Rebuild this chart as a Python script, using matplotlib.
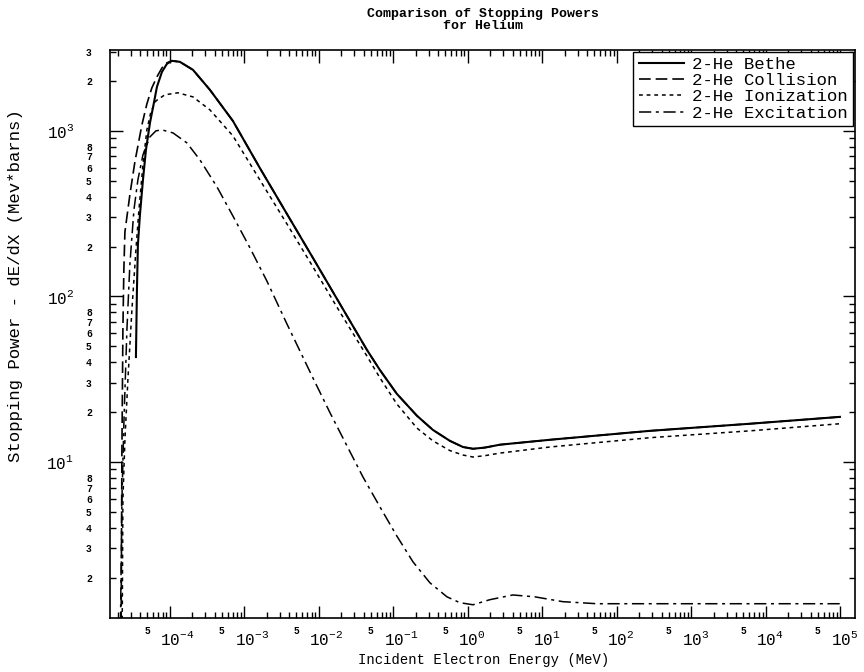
import numpy as np
import matplotlib
matplotlib.use("Agg")
import matplotlib.pyplot as plt
import matplotlib.transforms as mtransforms
from matplotlib.ticker import LogLocator, FuncFormatter

plt.rcParams["font.family"] = ["Liberation Mono", "DejaVu Sans Mono"]
plt.rcParams["mathtext.default"] = "regular"

# ---- data (energy in MeV, stopping power in MeV*barns) ----
bethe_E = [3.5e-5, 3.61e-5, 3.72e-5, 3.96e-5, 4.35e-5, 4.77e-5, 5.4e-5, 6.1e-5,
           6.7e-5, 7.82e-5, 9.12e-5, 1.06e-4, 1.36e-4, 2.04e-4, 3.44e-4, 7.01e-4,
           1.61e-3, 3.72e-3, 8.3e-3, 1.91e-2, 4.41e-2, 6.59e-2,
           0.111, 0.207, 0.339, 0.573, 0.857, 1.17, 1.69, 2.69,
           12.6, 277, 6100, 9.85e4]
bethe_V = [43, 109, 205, 310, 506, 767, 1117, 1476,
           1845, 2270, 2540, 2650, 2612, 2337, 1771, 1148,
           597, 315, 171, 90.2, 47.5, 35.9,
           25.8, 19.0, 15.6, 13.4, 12.3, 12.0, 12.2, 12.7,
           13.6, 15.4, 17.0, 18.7]

coll_E = [2.2e-5, 2.27e-5, 2.34e-5, 2.41e-5, 2.49e-5, 2.9e-5, 3.39e-5, 4.21e-5,
          4.91e-5, 5.73e-5, 6.7e-5, 7.82e-5, 9.12e-5, 1.06e-4, 1.36e-4, 2.04e-4,
          3.44e-4, 7.01e-4, 1.61e-3, 3.72e-3, 8.3e-3, 1.91e-2, 4.41e-2, 6.59e-2,
          0.111, 0.207, 0.339, 0.573, 0.857, 1.17,
          1.69, 2.69, 12.6, 277, 6100, 9.85e4]
coll_V = [0.5, 11.8, 63, 145, 245, 410, 650, 1087,
          1455, 1820, 2120, 2400, 2576, 2650, 2612, 2337,
          1771, 1148, 597, 315, 171, 90.2, 47.5, 35.9,
          25.8, 19.0, 15.6, 13.4, 12.3, 12.0,
          12.2, 12.7, 13.6, 15.4, 17.0, 18.7]

ion_E = [2.27e-5, 2.34e-5, 2.49e-5, 2.73e-5, 3.09e-5, 3.5e-5, 3.84e-5, 4.35e-5,
         4.91e-5, 5.56e-5, 6.49e-5, 8.57e-5, 1.28e-4, 2.04e-4, 3.44e-4, 7.01e-4,
         1.61e-3, 3.72e-3, 8.3e-3, 1.91e-2, 4.41e-2, 6.59e-2,
         0.111, 0.207, 0.339, 0.573, 0.857, 1.17, 1.69, 2.69,
         12.6, 277, 6100, 9.85e4]
ion_V = [0.5, 5.9, 13.6, 31.3, 82.8, 191, 333, 624,
         1014, 1303, 1517, 1652, 1698, 1604, 1340, 933,
         506, 274, 151, 80.5, 43.6, 32.2,
         22.4, 16.0, 13.4, 11.7, 11.0, 10.7, 10.9, 11.3,
         12.3, 14.0, 15.4, 17.0]

exc_E = [2.13e-5, 2.27e-5, 2.42e-5, 2.65e-5, 2.9e-5, 3.29e-5, 3.72e-5, 4.35e-5,
         5.4e-5, 6.49e-5, 7.82e-5, 1.1e-4, 1.69e-4, 2.53e-4, 4.28e-4, 7.01e-4,
         1.19e-3, 2.0e-3, 3.72e-3, 8.3e-3, 1.41e-2, 2.38e-2, 3.9e-2, 6.59e-2,
         0.111, 0.183, 0.309, 0.523, 0.781, 1.17, 1.97, 4.0,
         7.9, 18.8, 54, 9.85e4]
exc_V = [0.5, 5.9, 18, 63, 155, 333, 506, 716,
         920, 1000, 1014, 972, 846, 668, 459, 306,
         196, 124, 68.2, 32.2, 19.8, 12.5, 8.11, 5.35,
         3.57, 2.49, 1.86, 1.53, 1.41, 1.37, 1.47, 1.57,
         1.53, 1.43, 1.39, 1.39]

labels = ["2-He Bethe", "2-He Collision", "2-He Ionization", "2-He Excitation"]

# ---- figure ----
fig = plt.figure(figsize=(8.64, 6.72), dpi=100)
ax = fig.add_axes([0.1273, 0.0804, 0.8623, 0.8452])

ax.plot(bethe_E, bethe_V, color="black", lw=1.5, ls="-", label=labels[0])
ax.plot(coll_E, coll_V, color="black", lw=1.2, dashes=(7, 3), label=labels[1])
ax.plot(ion_E, ion_V, color="black", lw=1.1, dashes=(2.5, 2.5), label=labels[2])
ax.plot(exc_E, exc_V, color="black", lw=1.1, dashes=(8, 3, 2, 3), label=labels[3])

ax.set_xscale("log")
ax.set_yscale("log")
ax.set_xlim(1.57e-5, 1.57e5)
ax.set_ylim(1.14, 3080)

# ticks: inward on all four sides, digit labels on minor ticks
ax.xaxis.set_major_locator(LogLocator(base=10, numticks=20))
ax.xaxis.set_minor_locator(LogLocator(base=10, subs=np.arange(2, 10), numticks=20))
ax.yaxis.set_major_locator(LogLocator(base=10, numticks=20))
ax.yaxis.set_minor_locator(LogLocator(base=10, subs=np.arange(2, 10), numticks=20))


def major_fmt(v, pos):
    return r"$10^{%d}$" % int(round(np.log10(v)))


def mantissa(v):
    return int(round(v / 10 ** np.floor(np.log10(v) + 1e-9)))


ax.xaxis.set_major_formatter(FuncFormatter(major_fmt))
ax.yaxis.set_major_formatter(FuncFormatter(major_fmt))
ax.xaxis.set_minor_formatter(FuncFormatter(lambda v, p: "5" if mantissa(v) == 5 else ""))
ax.yaxis.set_minor_formatter(FuncFormatter(lambda v, p: str(mantissa(v)) if mantissa(v) <= 8 else ""))

ax.tick_params(which="both", direction="in", top=True, right=True, width=1)
ax.tick_params(which="major", length=9, labelsize=11.5)
ax.tick_params(which="minor", length=4, labelsize=7)
ax.tick_params(axis="x", which="major", pad=9)
ax.tick_params(axis="x", which="minor", pad=6)
ax.tick_params(axis="y", which="major", pad=26)
ax.tick_params(axis="y", which="minor", pad=13)
for t in ax.yaxis.get_minorticklabels() + ax.xaxis.get_minorticklabels():
    t.set_fontweight("bold")

# "10" centred on the tick, exponent hanging to the right
shift = mtransforms.ScaledTranslation(-7 / 72, 0, fig.dpi_scale_trans)
for t in ax.xaxis.get_majorticklabels():
    t.set_horizontalalignment("left")
    t.set_transform(t.get_transform() + shift)

for s in ax.spines.values():
    s.set_linewidth(1.2)

ax.set_xlabel("Incident Electron Energy (MeV)", fontsize=10)
ax.xaxis.set_label_coords(0.502, -0.062)
ax.set_ylabel("Stopping Power - dE/dX (Mev*barns)", fontsize=12.5)
ax.yaxis.set_label_coords(-0.117, 0.585)
ax.set_title("Comparison of Stopping Powers\nfor Helium", fontsize=9.5,
             fontweight="bold", linespacing=1.0, pad=15)

leg = ax.legend(loc="upper right", fontsize=12.5, frameon=True, fancybox=False,
                edgecolor="black", framealpha=1, borderaxespad=0.1,
                handlelength=2.6, handletextpad=0.5, labelspacing=0.06,
                borderpad=0.3)
leg.get_frame().set_linewidth(1.0)

fig.savefig("out.png", dpi=100)
